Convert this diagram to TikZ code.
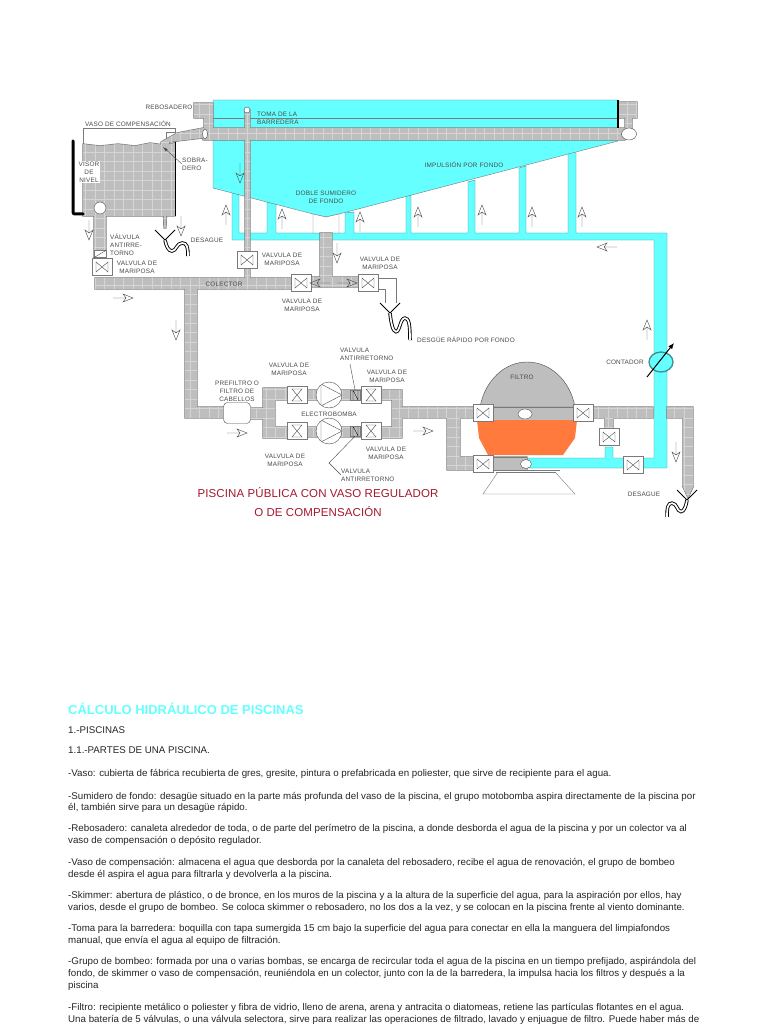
\documentclass[tikz,border=0pt]{standalone}
\usepackage{fontspec}
\setmainfont{Liberation Sans}
\newfontfamily\labelfont[LetterSpace=3]{Liberation Sans}
\newfontfamily\redfont[LetterSpace=1]{Liberation Sans}
\usepackage{tikz}
\usetikzlibrary{
    calc,
    arrows.meta,
    shapes.geometric
}
\definecolor{poolcyan}{HTML}{66FFFF}
\definecolor{pipegrey}{HTML}{BEBEBE}
\definecolor{edgegrey}{HTML}{7A7A7A}
\definecolor{tealedge}{HTML}{3E8E8E}
\definecolor{sandorange}{HTML}{FF7A3C}
\definecolor{titlered}{HTML}{A5182E}
\definecolor{labelgrey}{HTML}{4A4A4A}
\definecolor{bodygrey}{HTML}{262626}
\tikzset{
    valvebox/.style={draw=edgegrey,fill=white,thin,minimum width=20pt,minimum height=17pt,inner sep=0pt},
    valveh/.style={valvebox,path picture={
        \draw[labelgrey,thin] ([shift={(-6pt,-5pt)}]path picture bounding box.center) -- ([shift={(6pt,5pt)}]path picture bounding box.center) -- ([shift={(6pt,-5pt)}]path picture bounding box.center) -- ([shift={(-6pt,5pt)}]path picture bounding box.center) -- cycle;}},
    valvev/.style={valvebox,path picture={
        \draw[labelgrey,thin] ([shift={(-5pt,-6pt)}]path picture bounding box.center) -- ([shift={(5pt,6pt)}]path picture bounding box.center) -- ([shift={(-5pt,6pt)}]path picture bounding box.center) -- ([shift={(5pt,-6pt)}]path picture bounding box.center) -- cycle;}},
    checkbox/.style={draw=edgegrey,fill=pipegrey,thin,minimum width=10pt,minimum height=10pt,inner sep=0pt,path picture={
        \draw[black,thin] ([shift={(-2pt,-5pt)}]path picture bounding box.center) -- ([shift={(-2pt,5pt)}]path picture bounding box.center) -- ([shift={(3pt,-5pt)}]path picture bounding box.center) -- ([shift={(3pt,5pt)}]path picture bounding box.center);}},
    pumpnode/.style={circle,draw=labelgrey,fill=white,thin,minimum size=26pt,inner sep=0pt,path picture={
        \draw[labelgrey,thin] ([shift={(-8pt,-11pt)}]path picture bounding box.center) -- ([shift={(13pt,0pt)}]path picture bounding box.center) -- ([shift={(-8pt,11pt)}]path picture bounding box.center) -- cycle;}},
    portnode/.style={ellipse,draw=labelgrey,fill=white,thin,inner sep=0pt},
    partlabel/.style={font=\labelfont\fontsize{6.4}{8}\selectfont,text=labelgrey,align=center,inner sep=0pt},
    leftlabel/.style={partlabel,align=left,anchor=west},
    whitelabel/.style={partlabel,fill=white,inner sep=1pt},
    bodyline/.style={font=\fontsize{9.75}{12}\selectfont,text=bodygrey,anchor=base west,inner sep=0pt},
    redtitle/.style={font=\redfont\fontsize{11.5}{13}\selectfont,text=titlered,inner sep=0pt},
    flowmark/.style={draw=labelgrey,thin},
    leader/.style={draw=labelgrey,thin},
    drainpipe/.style={line width=.9pt,double=white,double distance=1.7pt,black}
}
\newcommand{\GreyPipes}{
  (194,103) rectangle (213,118)
  (204,118) rectangle (213,128)
  (203,128) rectangle (625,140)
  (618,102) rectangle (637,118)
  (625,118) rectangle (632,130)
  (203,128) -- (177,133) -- (161,142) -- (164,228) -- (166,228) -- (169,142) -- (203,138) -- cycle
  (175,143) -- (165,145) -- (150,143) -- (135,146) -- (118,144) -- (100,146) -- (83,144) -- (83,216) -- (175,216) -- cycle
  (94,208) rectangle (106,262)
  (95,278) rectangle (292,289)
  (245,110) rectangle (250,278)
  (320,233) rectangle (332,287)
  (311,277) rectangle (358,287)
  (185,289) rectangle (197,418)
  (185,407) rectangle (225,418)
  (248,408) rectangle (263,419)
  (263,388) rectangle (275,438)
  (263,388) rectangle (288,400)
  (263,427) rectangle (288,438)
  (306,390) rectangle (318,400)
  (340,390) rectangle (362,400)
  (306,427) rectangle (318,437)
  (340,427) rectangle (362,437)
  (380,390) rectangle (402,400)
  (380,427) rectangle (402,438)
  (392,390) rectangle (402,438)
  (402,407) rectangle (460,418)
  (447,407) rectangle (460,470)
  (447,457) rectangle (527,470)
  (460,407) rectangle (653,418)
  (605,418) rectangle (613,430)
  (667,407) rectangle (693,418)
  (683,407) rectangle (693,487)
  (683,487) -- (688,498) -- (693,487) -- cycle
}
\newcommand{\Drain}[4]{%
  \begin{scope}[shift={(#1,#2)},xscale=#3,yscale=#4]
  \draw[drainpipe] (0,0) .. controls (1,6) and (3,11) .. (6,11) .. controls (10,11) and (10,3) .. (15,3) .. controls (19,3) and (20,7) .. (20,16);
  \end{scope}
  \draw[black,line width=1pt] ($(#1,#2)+(-10,-10)$) -- (#1,#2) -- ($(#1,#2)+(10,-10)$);
}
\newcommand{\FlowArrow}[2]{%
  \draw[flowmark,shift={(#1)},rotate=#2] (-10,0) -- (3,0) (10,0) -- (0,4) -- (3,0) -- (0,-4) -- cycle;
}
\begin{document}
\begin{tikzpicture}[x=1pt,y=-1pt,thin]
\useasboundingbox (0,0) rectangle (768,1024);
\fill[white] (0,0) rectangle (768,1024);

\draw[fill=poolcyan,draw=tealedge] (232,190) -- (232,240) -- (654,240) -- (654,458) -- (613,458) -- (613,447) -- (605,447) -- (605,458) -- (527,458) -- (527,468) -- (667,468) -- (667,233) -- (576,233) -- (576,151) -- (568,153) -- (568,233) -- (526,233) -- (526,166) -- (519,168) -- (519,233) -- (475,233) -- (475,180) -- (468,182) -- (468,233) -- (411,233) -- (411,195) -- (406,196) -- (406,233) -- (354,233) -- (354,212) -- (345,213) -- (345,233) -- (276,233) -- (276,204) -- (267,202) -- (267,233) -- (239,233) -- (239,195) -- cycle;
\draw[fill=poolcyan,draw=edgegrey] (213,100) -- (618,100) -- (618,141) -- (339,214) -- (326,217) -- (313,214) -- (213,188) -- cycle;
\draw[edgegrey,fill=white] (313,214) -- (326,217) -- (339,214) -- (339,233) -- (313,233) -- cycle;
\draw[edgegrey] (205,118) -- (618,118);

\draw[edgegrey] (83,144) -- (83,128) -- (175,128) -- (175,216);
\draw[edgegrey] (166,142) -- (166,132) -- (176,132);

\draw[edgegrey,line width=1.3pt] \GreyPipes;
\fill[pipegrey] \GreyPipes;
\begin{scope}
\clip \GreyPipes;
\draw[pipegrey!65!white,step=9.5pt,very thin] (60,90) grid (700,500);
\end{scope}

\draw[black,line width=1.2pt] (618,100) -- (618,128);
\draw[black,line width=.9pt] (175,142) -- (175,216);
\draw[black,line width=3pt,line cap=round,rounded corners=2pt] (73,141) -- (73,214) -- (83,214);

\fill[white,draw=labelgrey] (247,110) circle (3pt);
\node[portnode,minimum width=5pt,minimum height=10pt] (overflowport) at (205,134) {};
\node[portnode,minimum width=15pt,minimum height=12pt] (rightport) at (629,134) {};
\node[portnode,circle,minimum size=12pt] (tankport) at (100,208) {};

\draw[edgegrey] (378,278) -- (396,278) -- (396,303);
\draw[edgegrey] (378,289) -- (385,289) -- (385,303);
\Drain{165}{240}{1.15}{1}
\Drain{390}{313}{1}{1.7}
\Drain{687}{500}{-1}{1.05}

\path[draw=labelgrey,fill=pipegrey] (480,407) .. controls (485,380) and (505,362) .. (527,362) .. controls (550,362) and (570,380) .. (575,407) -- cycle;
\fill[pipegrey] (480,407) rectangle (575,420);
\draw[edgegrey] (480,407) -- (575,407) (480,420) -- (575,420);
\fill[sandorange] (477,420) -- (577,420) -- (575,438) -- (563,455) -- (488,455) -- (479,438) -- cycle;
\fill[pipegrey] (490,457) rectangle (527,470);
\draw[edgegrey] (490,457) -- (527,457) (490,470) -- (560,470);
\node[portnode,minimum width=14pt,minimum height=10pt] (filterport) at (525,414) {};
\node[portnode,minimum width=11pt,minimum height=9pt] (lowerport) at (526,464) {};
\draw[edgegrey] (498,472) -- (483,494) -- (575,494) -- (555,472);
\draw[edgegrey] (496,472) -- (556,472);

\draw[tealedge,fill=poolcyan,line width=1.3pt] (661,362) circle [x radius=12pt,y radius=10pt];
\coordinate (counterfoot) at (647,377);
\coordinate (counterhead) at (674,343);
\draw[black,line width=1pt,-{Latex[length=6pt,width=5pt]}] (counterfoot) -- (counterhead);

\node[valveh] (tankvalve) at (102,267) {};
\node[draw=edgegrey,fill=white,minimum width=12pt,minimum height=7pt,inner sep=0pt] (tankcheck) at (100,254) {};
\draw[leader] (tankcheck.south west) -- (tankcheck.north east);
\node[valveh] (sweepvalve) at (247,260) {};
\node[valveh] (drainleft) at (301,283) {};
\node[valveh] (drainright) at (368,283) {};
\node[valvev] (pumpinup) at (297,395) {};
\node[valvev] (pumpinlow) at (297,431) {};
\node[pumpnode] (pumpup) at (329,395) {};
\node[pumpnode] (pumplow) at (329,431) {};
\node[checkbox] (checkup) at (355,395) {};
\node[checkbox] (checklow) at (355,431) {};
\node[valvev] (pumpoutup) at (371,395) {};
\node[valvev] (pumpoutlow) at (371,431) {};
\node[draw=labelgrey,fill=white,rounded corners=4pt,minimum width=27pt,minimum height=21pt] (prefilter) at (237,413) {};
\node[valveh] (filterinup) at (483,413) {};
\node[valveh] (filterinlow) at (483,464) {};
\node[valveh] (filteroutup) at (583,413) {};
\node[valveh] (bypassvalve) at (609,437) {};
\node[valveh] (returnvalve) at (633,465) {};

\FlowArrow{89,230}{-90}
\FlowArrow{181,226}{-90}
\FlowArrow{240,173}{-90}
\FlowArrow{337,253}{-90}
\FlowArrow{176,330}{-90}
\FlowArrow{676,452}{-90}
\FlowArrow{226,215}{90}
\FlowArrow{282,219}{90}
\FlowArrow{360,222}{90}
\FlowArrow{418,217}{90}
\FlowArrow{482,215}{90}
\FlowArrow{532,217}{90}
\FlowArrow{582,217}{90}
\FlowArrow{647,330}{90}
\FlowArrow{123,298}{0}
\FlowArrow{237,433}{0}
\FlowArrow{423,431}{0}
\FlowArrow{347,283}{0}
\FlowArrow{320,283}{180}
\FlowArrow{607,247}{180}

\node[partlabel] (overflowname) at (169,107) {REBOSADERO};
\node[partlabel] (tankname) at (128,124) {VASO DE COMPENSACIÓN};
\node[leftlabel] (sweepname) at (257,118.5) {TOMA DE LA\\BARREDERA};
\node[leftlabel] (sparename) at (182,164) {SOBRA-\\DERO};
\node[whitelabel] (visorname) at (89,172) {VISOR\\DE\\NIVEL};
\node[leftlabel] (tankcheckname) at (110,245) {VÁLVULA\\ANTIRRE-\\TORNO};
\node[partlabel] (tankvalvename) at (137,267) {VALVULA DE\\MARIPOSA};
\node[partlabel] (drainname) at (207,240) {DESAGUE};
\node[partlabel] (sweepvalvename) at (282,259) {VALVULA DE\\MARIPOSA};
\node[partlabel] (collectorname) at (224,284) {COLECTOR};
\node[partlabel] (drainleftname) at (302,305) {VALVULA DE\\MARIPOSA};
\node[partlabel] (drainrightname) at (380,263) {VALVULA DE\\MARIPOSA};
\node[partlabel] (sumpname) at (326,197.5) {DOBLE SUMIDERO\\DE FONDO};
\node[partlabel] (thrustname) at (464,165) {IMPULSIÓN POR FONDO};
\node[leftlabel] (fastname) at (417,340) {DESGÜE RÁPIDO POR FONDO};
\node[partlabel] (pumpinupname) at (289,369.5) {VALVULA DE\\MARIPOSA};
\node[leftlabel] (checkupname) at (340,354.5) {VALVULA\\ANTIRRETORNO};
\node[partlabel] (pumpoutupname) at (387,376) {VALVULA DE\\MARIPOSA};
\node[partlabel] (prefiltername) at (237,391) {PREFILTRO O\\FILTRO DE\\CABELLOS};
\node[partlabel] (pumpname) at (329,414) {ELECTROBOMBA};
\node[partlabel] (pumpinlowname) at (285,460) {VALVULA DE\\MARIPOSA};
\node[partlabel] (pumpoutlowname) at (386,453.5) {VALVULA DE\\MARIPOSA};
\node[leftlabel] (checklowname) at (341,475) {VALVULA\\ANTIRRETORNO};
\node[partlabel] (filtername) at (522,377) {FILTRO};
\node[partlabel] (countername) at (625,362) {CONTADOR};
\node[partlabel] (returnname) at (644,494) {DESAGUE};

\coordinate (sparetip) at (163,147);
\draw[leader,-{Latex[length=5pt,width=3pt]}] (sparename.west) -- (sparetip);
\coordinate (checkfoot) at (350,364);
\draw[leader] (checkfoot) -- (checkup.north);
\coordinate (checkbend) at (329,463);
\draw[leader] (checklow.south) -- (checkbend) -- (checklowname.west);

\node[redtitle] (redtitleone) at (318,493) {PISCINA PÚBLICA CON VASO REGULADOR};
\node[redtitle] (redtitletwo) at (318,512) {O DE COMPENSACIÓN};

\node[anchor=base west,inner sep=0pt,text=poolcyan,font=\bfseries\fontsize{13}{14}\selectfont] (pagetitle) at (68,714.5) {CÁLCULO HIDRÁULICO DE PISCINAS};
\foreach \n/\ypos/\txt in {
  1/733/{1.-PISCINAS},
  2/753/{1.1.-PARTES DE UNA PISCINA.},
  3/776/{-Vaso: cubierta de fábrica recubierta de gres, gresite, pintura o prefabricada en poliester, que sirve de recipiente para el agua.},
  4/799/{-Sumidero de fondo: desagüe situado en la parte más profunda del vaso de la piscina, el grupo motobomba aspira directamente de la piscina por},
  5/810/{él, también sirve para un desagüe rápido.},
  6/831/{-Rebosadero: canaleta alrededor de toda, o de parte del perímetro de la piscina, a donde desborda el agua de la piscina y por un colector va al},
  7/843/{vaso de compensación o depósito regulador.},
  8/865/{-Vaso de compensación: almacena el agua que desborda por la canaleta del rebosadero, recibe el agua de renovación, el grupo de bombeo},
  9/877/{desde él aspira el agua para filtrarla y devolverla a la piscina.},
  10/898/{-Skimmer: abertura de plástico, o de bronce, en los muros de la piscina y a la altura de la superficie del agua, para la aspiración por ellos, hay},
  11/910/{varios, desde el grupo de bombeo. Se coloca skimmer o rebosadero, no los dos a la vez, y se colocan en la piscina frente al viento dominante.},
  12/931/{-Toma para la barredera: boquilla con tapa sumergida 15 cm bajo la superficie del agua para conectar en ella la manguera del limpiafondos},
  13/943/{manual, que envía el agua al equipo de filtración.},
  14/964/{-Grupo de bombeo: formada por una o varias bombas, se encarga de recircular toda el agua de la piscina en un tiempo prefijado, aspirándola del},
  15/976/{fondo, de skimmer o vaso de compensación, reuniéndola en un colector, junto con la de la barredera, la impulsa hacia los filtros y después a la},
  16/988/{piscina},
  17/1010/{-Filtro: recipiente metálico o poliester y fibra de vidrio, lleno de arena, arena y antracita o diatomeas, retiene las partículas flotantes en el agua.},
  18/1022/{Una batería de 5 válvulas, o una válvula selectora, sirve para realizar las operaciones de filtrado, lavado y enjuague de filtro. Puede haber más de}
}{
  \node[bodyline] (line\n) at (68,\ypos) {\txt};
}
\end{tikzpicture}
\end{document}
